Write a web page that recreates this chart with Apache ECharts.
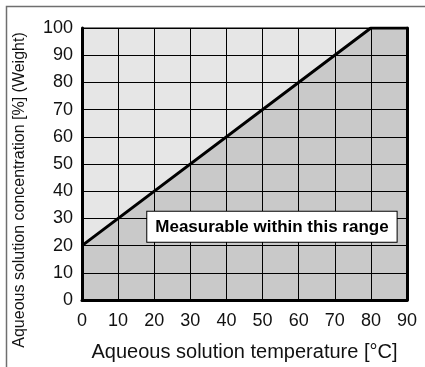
<!DOCTYPE html>
<html><head><meta charset="utf-8">
<script src="https://cdn.jsdelivr.net/npm/echarts@6/dist/echarts.min.js"></script>
<style>html,body{margin:0;padding:0;background:#fff}#c{width:425px;height:367px}</style>
</head><body><div id="c"></div>
<script>
const temps = [0, 80, 90];
const concentrations = [20, 100, 100];
const xTicks = [0, 90, 10];
const yTicks = [0, 100, 10];
const noteText = 'Measurable within this range';
const notePos = [52.6, 26.9];
const xTitle = 'Aqueous solution temperature [°C]';
const yTitle = 'Aqueous solution concentration [%] (Weight)';

const font = 'Liberation Sans, Arial, Helvetica, sans-serif';
const chart = echarts.init(document.getElementById('c'), null, {renderer: 'canvas'});
chart.setOption({
  animation: false,
  backgroundColor: '#fff',
  graphic: [
    {type: 'rect', shape: {x: 6.5, y: 6.5, width: 440, height: 400}, style: {fill: 'none', stroke: '#6f6f6f', lineWidth: 1.5}, silent: true, z: 0},
    {type: 'text', x: 20, y: 190, rotation: Math.PI / 2, silent: true, z: 1,
     style: {text: yTitle, fill: '#111', fontSize: 16, fontFamily: font, align: 'center', verticalAlign: 'middle'}}
  ],
  grid: {left: 82, right: 18, top: 28, bottom: 64, show: true, backgroundColor: '#e6e6e6', borderColor: '#000', borderWidth: 1},
  xAxis: {
    type: 'value', min: xTicks[0], max: xTicks[1], interval: xTicks[2], z: 5,
    axisLine: {show: true, onZero: false, lineStyle: {color: '#000', width: 3}},
    axisTick: {show: false},
    splitLine: {show: true, lineStyle: {color: '#000', width: 1}},
    axisLabel: {color: '#111', fontSize: 18, fontFamily: font, margin: 12},
    name: xTitle, nameLocation: 'middle', nameGap: 42,
    nameTextStyle: {color: '#111', fontSize: 20, fontFamily: font}
  },
  yAxis: [{
    type: 'value', min: yTicks[0], max: yTicks[1], interval: yTicks[2], z: 5,
    axisLine: {show: true, onZero: false, lineStyle: {color: '#000', width: 3}},
    axisTick: {show: false},
    splitLine: {show: true, lineStyle: {color: '#000', width: 1}},
    axisLabel: {color: '#111', fontSize: 18, fontFamily: font, margin: 9}
  }, {
    type: 'value', min: yTicks[0], max: yTicks[1], interval: yTicks[2], position: 'right', z: 5,
    axisLine: {show: true, onZero: false, lineStyle: {color: '#000', width: 3}},
    axisTick: {show: false}, axisLabel: {show: false}, splitLine: {show: false}
  }],
  series: [{
    type: 'line', z: 2,
    data: temps.map((t, i) => [t, concentrations[i]]),
    symbol: 'none',
    lineStyle: {color: '#000', width: 3},
    areaStyle: {color: '#c9c9c9', opacity: 1, origin: 'start'}
  }, {
    type: 'scatter', z: 10, symbolSize: 0,
    itemStyle: {opacity: 1},
    data: [notePos],
    label: {show: true, position: 'inside', formatter: noteText,
      fontFamily: font, fontWeight: 'bold', fontSize: 17, color: '#000',
      backgroundColor: '#fff', borderColor: '#000', borderWidth: 1,
      padding: [7, 8, 6, 8]},
    emphasis: {disabled: true}
  }]
});
</script></body></html>
